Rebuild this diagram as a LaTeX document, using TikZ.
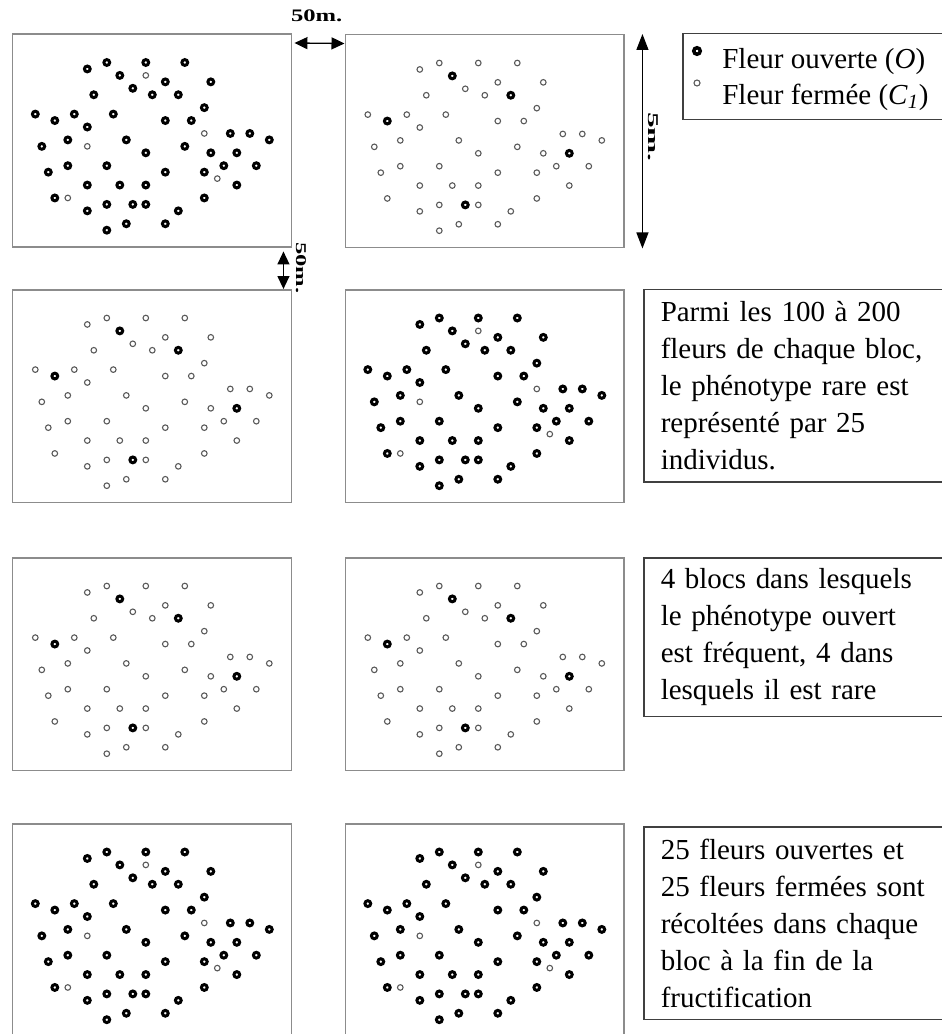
\documentclass[tikz,border=0pt]{standalone}
\usepackage{fontspec}
\setmainfont{Liberation Serif}
\usetikzlibrary{arrows.meta}

\tikzset{
  bloc/.style={draw=black!45,line width=0.03cm,minimum width=5.58cm,minimum height=4.26cm,inner sep=0pt,anchor=north west},
  cadre/.style={draw=black!75,line width=0.03cm,anchor=north west,inner xsep=0.34cm,align=left,font=\fontsize{16.5}{21}\selectfont},
  ouv/.style={draw=black,line width=0.06cm},
  ferm/.style={draw=black!65,line width=0.022cm},
  cote/.style={{Triangle[length=0.26cm,width=0.24cm]}-{Triangle[length=0.26cm,width=0.24cm]},line width=0.026cm},
  mesure/.style={font=\fontsize{10}{11}\selectfont\bfseries,inner sep=0pt}
}

\newcommand{\pleins}{8/1,11/0,17/0,23/0,20/3,27/3,15/4,9/5,18/5,26/7,0/8,6/8,12/8,20/9,24/9,8/10,30/11,33/11,36/12,5/12,14/12,1/13,23/13,17/14,27/14,5/16,11/16,29/16,34/16,2/17,20/17,26/17,8/19,13/19,17/19,31/19,3/21,26/21,11/22,17/22,8/23,22/23,14/25,20/25,11/26}
\newcommand{\marques}{13/2,22/5,3/9,31/14,15/22}
\newcommand{\absentes}{17/2,26/11,8/13,28/18,5/21}

\newcommand{\blocfrequent}[1]{\begin{scope}[shift={(#1.north west)}]
\foreach \i/\j in \pleins {\draw[ouv] ({23.3+6.5*\i},{29+6.45*\j}) circle (0.058cm);}
\foreach \i/\j in \marques {\draw[ouv] ({23.3+6.5*\i},{29+6.45*\j}) circle (0.058cm);}
\foreach \i/\j in \absentes {\draw[ferm] ({23.3+6.5*\i},{29+6.45*\j}) circle (0.056cm);}
\end{scope}}
\newcommand{\blocrare}[1]{\begin{scope}[shift={(#1.north west)}]
\foreach \i/\j in \pleins {\draw[ferm] ({23.3+6.5*\i},{29+6.45*\j}) circle (0.056cm);}
\foreach \i/\j in \marques {\draw[ouv] ({23.3+6.5*\i},{29+6.45*\j}) circle (0.058cm);}
\end{scope}}

\begin{document}
\begin{tikzpicture}[x=0.02cm,y=-0.02cm]
\useasboundingbox (0,0) rectangle (941,1034);
\node[bloc] (a1) at (12,33.5) {};
\node[bloc] (b1) at (344.5,34) {};
\node[bloc] (a2) at (12,289) {};
\node[bloc] (b2) at (344.5,289) {};
\node[bloc] (a3) at (12,557) {};
\node[bloc] (b3) at (344.5,557) {};
\node[bloc] (a4) at (12,823) {};
\node[bloc] (b4) at (344.5,823) {};
\blocfrequent{a1}\blocrare{b1}
\blocrare{a2}\blocfrequent{b2}
\blocrare{a3}\blocrare{b3}
\blocfrequent{a4}\blocfrequent{b4}

\draw[cote] ([xshift=0.04cm,yshift=-0.19cm]a1.north east) -- ([yshift=-0.19cm]b1.north west);
\node[mesure] (h50) at (316.7,16) {\scalebox{1.4}[1]{50m.}};
\draw[cote,{Triangle[length=0.32cm,width=0.24cm]}-{Triangle[length=0.32cm,width=0.24cm]}] ([xshift=0.35cm]b1.north east) -- ([xshift=0.35cm]b1.south east);
\node[mesure,rotate=-90,font=\fontsize{8.5}{10}\selectfont\bfseries] (v5) at (653,137) {\scalebox{2.1}[1]{5m.}};
\draw[cote] ([xshift=-0.18cm,yshift=-0.07cm]a1.south east) -- ([xshift=-0.18cm]a2.north east);
\node[mesure,rotate=-90,font=\fontsize{8.5}{10}\selectfont\bfseries] (v50) at (301,268) {\scalebox{1.65}[1]{50m.}};

\node[cadre,minimum width=5.4cm,minimum height=1.72cm,inner sep=0pt] (legende) at (682,33) {};
\draw[ouv,line width=0.07cm] (697,51) circle (0.065cm);
\draw[ferm,line width=0.022cm] (697,83) circle (0.06cm);
\node[anchor=west,inner sep=0pt,font=\fontsize{16.5}{18}\selectfont] (ouverte) at (722,62) {Fleur ouverte (\textit{O})};
\node[anchor=west,inner sep=0pt,font=\fontsize{16.5}{18}\selectfont] (fermee) at (722,97) {Fleur fermée (\textit{C}\textsubscript{\textit{1}})};

\node[cadre,text width=5.6cm,minimum height=3.86cm] (texte2) at (643,288.5) {Parmi les 100 à 200\\ fleurs de chaque bloc,\\ le phénotype rare est\\ représenté par 25\\ individus.};
\node[cadre,text width=5.6cm,minimum height=3.18cm] (texte3) at (643,557) {4 blocs dans lesquels\\ le phénotype ouvert\\ est fréquent, 4 dans\\ lesquels il est rare};
\node[cadre,text width=5.6cm,minimum height=3.86cm] (texte4) at (643,826) {25 fleurs ouvertes et\\ 25 fleurs fermées sont\\ récoltées dans chaque\\ bloc à la fin de la\\ fructification};
\end{tikzpicture}
\end{document}
